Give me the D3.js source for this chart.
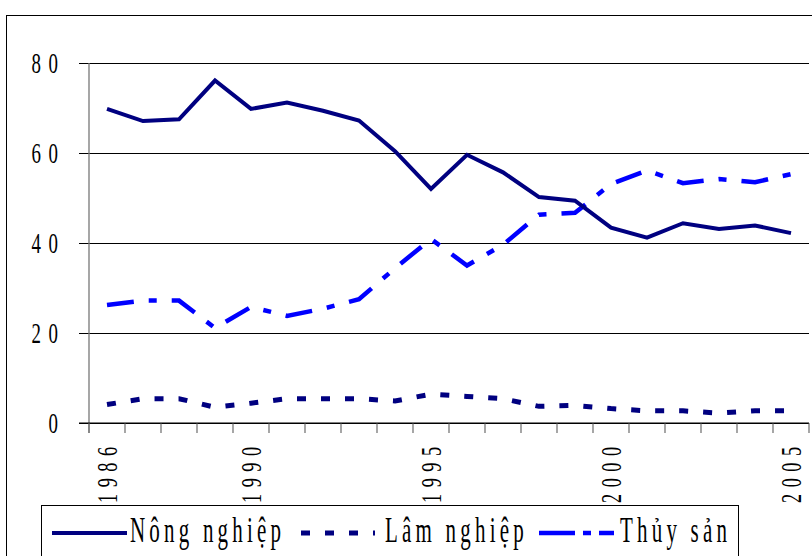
<!DOCTYPE html>
<html>
<head>
<meta charset="utf-8">
<script src="https://cdn.jsdelivr.net/npm/d3@7/dist/d3.min.js"></script>
<style>
  html, body { margin: 0; padding: 0; background: #fff; }
  svg { display: block; }
  text { font-family: "Liberation Serif", "Times New Roman", serif; fill: #000; }
</style>
</head>
<body>
<svg id="chart" width="812" height="556"></svg>
<script>
const years = [1986,1987,1988,1989,1990,1991,1992,1993,1994,1995,1996,1997,1998,1999,2000,2001,2002,2003,2004,2005];
const nongNghiep = [69.8,67.1,67.5,76.1,69.8,71.2,69.4,67.2,60.4,52.0,59.6,55.7,50.2,49.4,43.4,41.2,44.4,43.1,43.9,42.2];
const lamNghiep  = [4.1,5.4,5.4,3.5,4.4,5.4,5.4,5.4,4.9,6.4,5.9,5.4,3.7,3.9,3.2,2.7,2.7,2.2,2.7,2.7];
const thuySan    = [26.2,27.2,27.2,21.1,25.8,23.8,25.4,27.5,34.4,40.9,35.0,39.6,46.3,46.7,53.1,56.1,53.3,54.2,53.5,55.3];
const yTicks = [0,20,40,60,80];
const xLabelYears = [1986,1990,1995,2000,2005];
const seriesNames = ["Nông nghiệp","Lâm nghiệp","Thủy sản"];

const svg = d3.select("#chart");
const W = 812, H = 556;
const plot = {left: 89, right: 809, top: 63, bottom: 423};

svg.append("rect").attr("width", W).attr("height", H).attr("fill", "#fff");
// outer chart border
svg.append("rect").attr("x", 6.5).attr("y", 15.5).attr("width", 900).attr("height", 700)
  .attr("fill", "none").attr("stroke", "#000").attr("stroke-width", 1);

const x = d3.scaleBand().domain(years).range([plot.left, plot.right]).paddingInner(0).paddingOuter(0);
const y = d3.scaleLinear().domain([0, 80]).range([plot.bottom, plot.top]);
const cx = d => x(d) + x.bandwidth() / 2;

// gridlines + y ticks
const yAxis = d3.axisLeft(y).tickValues(yTicks).tickSizeInner(-(plot.right - plot.left)).tickSizeOuter(0).tickFormat("");
const gy = svg.append("g").attr("transform", `translate(${plot.left},0)`).call(yAxis);
gy.select(".domain").remove();
gy.selectAll(".tick line").attr("x1", -10).attr("stroke", "#000").attr("stroke-width", 1.2);

// y axis line
svg.append("line").attr("x1", plot.left).attr("x2", plot.left).attr("y1", plot.top).attr("y2", plot.bottom + 10)
  .attr("stroke", "#777").attr("stroke-width", 1.3);

// x ticks at category boundaries
const bounds = years.map(d => x(d)).concat([x.range()[1]]);
svg.append("g").selectAll("line").data(bounds).join("line")
  .attr("x1", d => d).attr("x2", d => d).attr("y1", plot.bottom).attr("y2", plot.bottom + 10)
  .attr("stroke", "#777").attr("stroke-width", 1.3);
svg.append("line").attr("x1", plot.left - 10).attr("x2", plot.right).attr("y1", plot.bottom).attr("y2", plot.bottom)
  .attr("stroke", "#000").attr("stroke-width", 1.2);

// condensed text helper
function ctext(g, str, tx, ty, opts) {
  const grp = g.append("g").attr("transform", `translate(${tx},${ty}) ${opts.rotate ? "rotate(" + opts.rotate + ")" : ""} scale(${opts.sx},1)`);
  grp.append("text").text(str)
    .attr("font-size", opts.size)
    .attr("letter-spacing", opts.ls || 0)
    .attr("text-anchor", opts.anchor || "start")
    .attr("dominant-baseline", opts.baseline || "auto");
  return grp;
}

// y tick labels
const labG = svg.append("g");
yTicks.forEach(t => {
  ctext(labG, String(t), 58 + 7.5, y(t) + 10, {size: 30, sx: 0.63, ls: 12, anchor: "end"});
});

// x tick labels (rotated)
xLabelYears.forEach(yr => {
  ctext(labG, String(yr), cx(yr) + 9.5, 447 - 6.5, {size: 29, sx: 0.63, ls: 10.3, anchor: "end", rotate: -90});
});

// series lines
const line = d3.line().x((d, i) => cx(years[i])).y(d => y(d));
svg.append("path").datum(thuySan).attr("d", line).attr("fill", "none")
  .attr("stroke", "#0000ff").attr("stroke-width", 4.5).attr("stroke-dasharray", "27,15,8,15").attr("stroke-linejoin", "miter");
svg.append("path").datum(lamNghiep).attr("d", line).attr("fill", "none")
  .attr("stroke", "#000080").attr("stroke-width", 5).attr("stroke-dasharray", "9,15");
svg.append("path").datum(nongNghiep).attr("d", line).attr("fill", "none")
  .attr("stroke", "#000080").attr("stroke-width", 4).attr("stroke-linejoin", "miter");

// legend
const lg = svg.append("g");
lg.append("rect").attr("x", 41.5).attr("y", 505.5).attr("width", 697).attr("height", 80)
  .attr("fill", "#fff").attr("stroke", "#000").attr("stroke-width", 1);
const legendItems = [
  {name: seriesNames[0], x0: 52, x1: 127, tx: 130, color: "#000080", dash: null, w: 4},
  {name: seriesNames[1], x0: 301, x1: 375, tx: 385, color: "#000080", dash: "9,15", w: 5},
  {name: seriesNames[2], x0: 539, x1: 614, tx: 620, color: "#0000ff", dash: "36,8,8,8", w: 4.5}
];
legendItems.forEach(it => {
  lg.append("line").attr("x1", it.x0).attr("x2", it.x1).attr("y1", 533).attr("y2", 533)
    .attr("stroke", it.color).attr("stroke-width", it.w).attr("stroke-dasharray", it.dash);
  ctext(lg, it.name, it.tx, 542, {size: 35, sx: 0.6, ls: 7, anchor: "start"});
});
</script>
</body>
</html>
